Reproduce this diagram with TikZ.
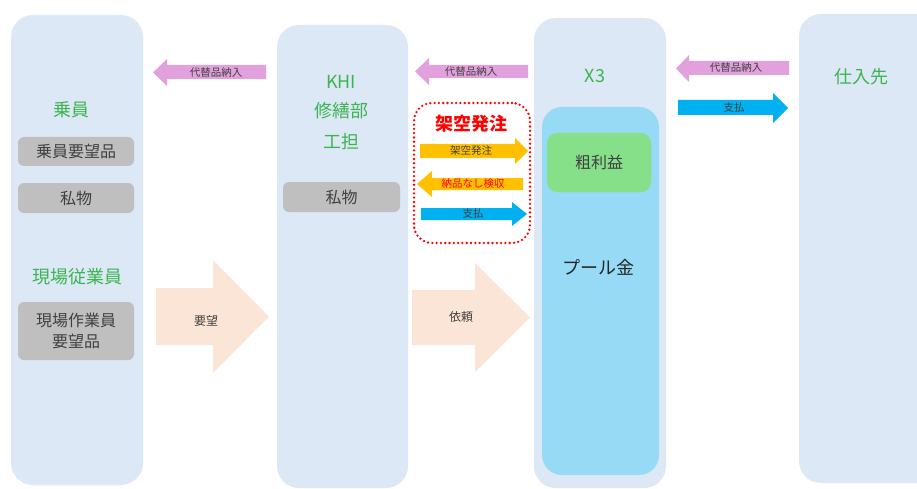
\documentclass[tikz,border=0pt]{standalone}
\usepackage{fontspec}
\setmainfont{Noto Sans CJK JP}
\usetikzlibrary{positioning}

\definecolor{colblue}{RGB}{220,232,246}
\definecolor{poolblue}{RGB}{150,218,246}
\definecolor{profitgreen}{RGB}{134,224,138}
\definecolor{boxgray}{RGB}{191,191,191}
\definecolor{txtgray}{RGB}{64,64,64}
\definecolor{lblgreen}{RGB}{60,180,80}
\definecolor{pinkarr}{RGB}{226,160,220}
\definecolor{orangearr}{RGB}{255,192,0}
\definecolor{bluearr}{RGB}{0,176,240}
\definecolor{peacharr}{RGB}{251,229,214}

% block arrow: style, tail x, head base x, tip x, body top, body bottom, head top, head bottom
\newcommand{\blockarrow}[8]{%
  \fill[#1] (#2,#5) -- (#3,#5) -- (#3,#7) -- (#4,{(#7+#8)/2}) -- (#3,#8) -- (#3,#6) -- (#2,#6) -- cycle;}

\tikzset{
  column/.style={fill=colblue, rounded corners=22pt, inner sep=0pt},
  graybox/.style={fill=boxgray, rounded corners=6pt, inner sep=0pt, text=txtgray,
    font=\fontsize{16}{21}\selectfont, align=center},
  grnlabel/.style={text=lblgreen, font=\fontsize{18}{22}\selectfont},
  smalllabel/.style={text=txtgray, font=\fontsize{10.5}{12}\selectfont, inner sep=0pt},
  biglabel/.style={text=txtgray, font=\fontsize{12}{14}\selectfont, inner sep=0pt}
}

\begin{document}
\begin{tikzpicture}[x=1pt,y=-1pt,line cap=round,line join=round]
  \useasboundingbox (0,0) rectangle (917,489);
  \clip (0,0) rectangle (917,489);
  % columns
  \node[column, minimum width=132, minimum height=470] (crewcol) at (77,250) {};
  \node[column, minimum width=131, minimum height=463] (khicol) at (342.5,256.5) {};
  \node[column, minimum width=132, minimum height=470] (xcol) at (600,253) {};
  \node[column, minimum width=141, minimum height=469] (supcol) at (869.5,248.5) {};
  % pool and profit
  \node[fill=poolblue, rounded corners=20pt, minimum width=117, minimum height=368, inner sep=0pt] (pool) at (600.5,291) {};
  \node[fill=profitgreen, rounded corners=10pt, minimum width=104, minimum height=59, inner sep=0pt,
    text=txtgray, font=\fontsize{16}{20}\selectfont] (profit) at (599,162.5) {粗利益};
  \node[text=black!85, font=\fontsize{18}{22}\selectfont] (poollbl) at (598,267) {プール金};
  % fictitious order frame
  \node[draw=red, line width=2.6pt, dash pattern=on 0pt off 4.3pt, rounded corners=18pt,
    minimum width=116, minimum height=140, inner sep=0pt] (fake) at (472,173) {};
  \node[text=red, font=\fontsize{18}{22}\selectfont\bfseries] (faketitle) at (471,123.5) {架空発注};
  % block arrows
  \blockarrow{pinkarr}{266}{167}{153}{65}{79}{59}{86}
  \blockarrow{pinkarr}{528}{429}{415}{65}{78}{58}{85}
  \blockarrow{pinkarr}{789}{689}{676}{61}{75}{55}{82}
  \blockarrow{bluearr}{678}{773}{788}{100}{115}{93}{123}
  \blockarrow{orangearr}{420}{515}{528}{144}{158}{138}{164}
  \blockarrow{orangearr}{523}{432}{417}{178}{190}{171}{197}
  \blockarrow{bluearr}{421}{512}{527}{208}{220}{202}{226}
  \blockarrow{peacharr}{156}{213}{269}{288}{345}{260}{373}
  \blockarrow{peacharr}{412}{475}{530}{290}{345}{263}{372}
  % arrow labels
  \node[smalllabel] (sub1) at (216,73) {代替品納入};
  \node[smalllabel] (sub2) at (471,72) {代替品納入};
  \node[smalllabel] (sub3) at (736,68) {代替品納入};
  \node[smalllabel] (pay1) at (734,108) {支払};
  \node[smalllabel] (fakeord) at (471,151) {架空発注};
  \node[smalllabel, text=red] (noinsp) at (473,184) {納品なし検収};
  \node[smalllabel] (pay2) at (473,214) {支払};
  \node[biglabel] (want) at (206,321) {要望};
  \node[biglabel] (ask) at (461,317) {依頼};
  % column texts
  \node[grnlabel] (crew) at (71,110) {乗員};
  \node[graybox, minimum width=116, minimum height=29] (crewwant) at (76,151.5) {乗員要望品};
  \node[graybox, minimum width=116, minimum height=30] (own1) at (76,198) {私物};
  \node[grnlabel] (staff) at (77,277) {現場従業員};
  \node[graybox, minimum width=116, minimum height=58] (staffwant) at (76,331) {現場作業員\\要望品};
  \node[grnlabel] (khi) at (341,82) {KHI};
  \node[grnlabel] (repair) at (341,111) {修繕部};
  \node[grnlabel] (eng) at (341,142) {工担};
  \node[graybox, minimum width=117, minimum height=30] (own2) at (341.5,197) {私物};
  \node[grnlabel] (xthree) at (595,76) {X3};
  \node[grnlabel] (supplier) at (861,77) {仕入先};
\end{tikzpicture}
\end{document}
